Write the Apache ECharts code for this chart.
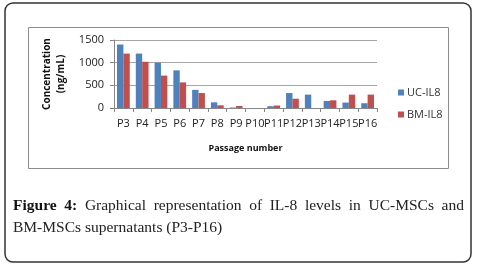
<!DOCTYPE html>
<html>
<head>
<meta charset="utf-8">
<script src="https://cdn.jsdelivr.net/npm/echarts@6/dist/echarts.min.js"></script>
<style>
  html, body { margin: 0; padding: 0; background: #fff; }
  #wrap { position: relative; width: 480px; height: 268px; overflow: hidden; }
  #chart { position: absolute; left: 0; top: 0; width: 480px; height: 268px; }
  #caption {
    position: absolute; left: 13px; top: 194px; width: 451px;
    font-family: "Liberation Serif", "DejaVu Serif", serif; font-size: 15.5px;
    line-height: 22px; color: #222; text-align: justify; text-align-last: left;
  }
  #caption b { font-weight: bold; color: #111; }
  .nw { white-space: nowrap; }
</style>
</head>
<body>
<div id="wrap">
  <div id="chart"></div>
  <div id="caption"><b>Figure 4:</b> Graphical representation of IL-8 levels in UC-MSCs and <span class="nw">BM-MSCs</span> supernatants (P3-P16)</div>
</div>
<script>
// passages and IL-8 values
const passages = ['P3', 'P4', 'P5', 'P6', 'P7', 'P8', 'P9', 'P10', 'P11', 'P12', 'P13', 'P14', 'P15', 'P16'];
const ucIL8 = [1400, 1200, 1000, 830, 400, 125, 10, 0, 40, 330, 295, 155, 120, 105];
const bmIL8 = [1200, 1020, 715, 565, 330, 60, 45, 0, 55, 205, 0, 170, 295, 295];

const chart = echarts.init(document.getElementById('chart'));
const font = '"Open Sans", "Liberation Sans", sans-serif';

const option = {
    animation: false,
    textStyle: { fontFamily: font },
    graphic: [
        {
            type: 'rect',
            shape: { x: 5, y: 3, width: 466, height: 259, r: 8 },
            style: { fill: 'none', stroke: '#333', lineWidth: 1.5 }
        },
        {
            type: 'rect',
            shape: { x: 28.5, y: 27.5, width: 420, height: 141 },
            style: { fill: 'none', stroke: '#8c8c8c', lineWidth: 1 }
        }
    ],
    grid: { left: 114, right: 103, top: 40, bottom: 160 },
    legend: {
        orient: 'vertical',
        left: 393, top: 82,
        itemWidth: 6, itemHeight: 6, itemGap: 11,
        icon: 'rect',
        textStyle: { fontSize: 11, color: '#333', fontFamily: font, padding: [0, 0, 0, -2] },
        data: ['UC-IL8', 'BM-IL8']
    },
    xAxis: {
        type: 'category',
        data: passages,
        name: 'Passage number',
        nameLocation: 'middle',
        nameGap: 36,
        nameTextStyle: { fontSize: 9, fontWeight: 'bold', color: '#111' },
        axisLine: { lineStyle: { color: '#868686' } },
        axisTick: { show: true, length: 4, lineStyle: { color: '#868686' } },
        axisLabel: { fontSize: 11, color: '#222', margin: 10, interval: 0 }
    },
    yAxis: {
        type: 'value',
        min: 0, max: 1500, interval: 500,
        name: 'Concentration\n(ng/mL)',
        nameLocation: 'middle',
        nameGap: 39,
        nameRotate: 90,
        nameTextStyle: { fontSize: 10, fontWeight: 'bold', color: '#111', lineHeight: 14 },
        axisLine: { show: true, lineStyle: { color: '#868686' } },
        axisTick: { show: true, length: 4, lineStyle: { color: '#868686' } },
        axisLabel: { fontSize: 11, color: '#222', margin: 10, formatter: v => String(v) },
        splitLine: { lineStyle: { color: '#a6a6a6' } }
    },
    series: [
        {
            name: 'UC-IL8',
            type: 'bar',
            data: ucIL8,
            barGap: '0%',
            barCategoryGap: '32%',
            itemStyle: { color: '#4f81bd' }
        },
        {
            name: 'BM-IL8',
            type: 'bar',
            data: bmIL8,
            itemStyle: { color: '#c0504d' }
        }
    ]
};

chart.setOption(option);
</script>
</body>
</html>
